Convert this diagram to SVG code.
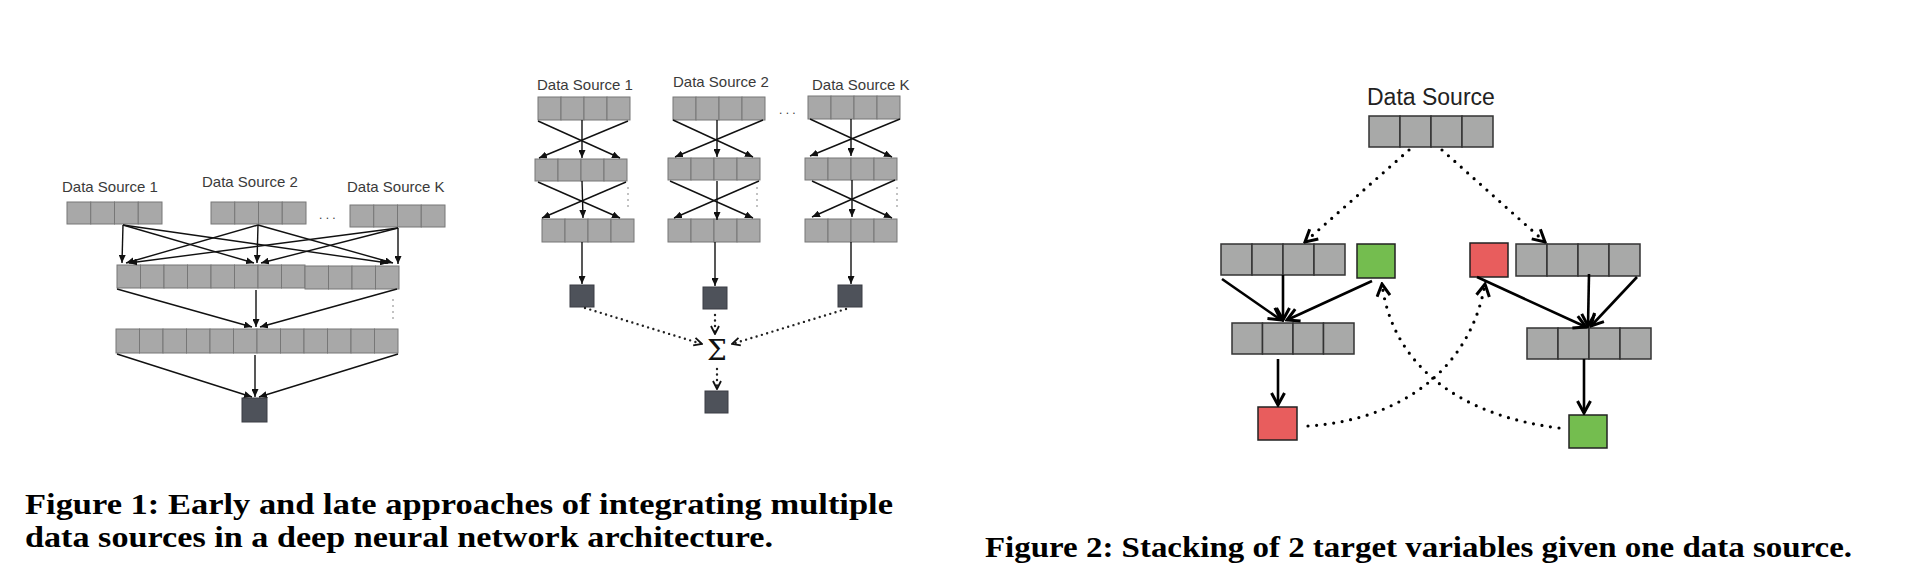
<svg xmlns="http://www.w3.org/2000/svg" width="1924" height="574" viewBox="0 0 1924 574">
<style>
.c1{fill:#a8a8a8;stroke:#777;stroke-width:1}
.c2{fill:#a8a9a8;stroke:#333;stroke-width:1.5}
.out{fill:#4e525a;stroke:#3a3d44;stroke-width:1}
.red{fill:#e85d5d;stroke:#222;stroke-width:1.5}
.grn{fill:#74bd4f;stroke:#222;stroke-width:1.5}
.lbl{font-family:"Liberation Sans",Arial,sans-serif;font-size:15px;fill:#3a3a3a}
.lbl2{font-family:"Liberation Sans",Arial,sans-serif;font-size:23px;fill:#222}
.cap{font-family:"Liberation Serif","Times New Roman",serif;font-weight:bold;font-size:30px;fill:#000}
.a1{stroke:#111;stroke-width:1.4;fill:none;marker-end:url(#tri)}
.d1{stroke:#222;stroke-width:2.4;fill:none;stroke-dasharray:0 5.5;stroke-linecap:round;marker-end:url(#chs)}
.dt{stroke:#666;stroke-width:1.5;fill:none;stroke-dasharray:0 6;stroke-linecap:round}
.a2{stroke:#000;stroke-width:2.6;fill:none;marker-end:url(#chl)}
.d2{stroke:#000;stroke-width:3.2;fill:none;stroke-dasharray:0 8.6;stroke-linecap:round;marker-end:url(#chl)}
</style>
<defs>
<marker id="tri" viewBox="0 0 8 7" refX="8" refY="3.5" markerWidth="8" markerHeight="7" markerUnits="userSpaceOnUse" orient="auto"><path d="M0,0 L8,3.5 L0,7 z" fill="#111"/></marker>
<marker id="chs" viewBox="0 0 10 10" refX="9" refY="5" markerWidth="10" markerHeight="10" markerUnits="userSpaceOnUse" orient="auto"><path d="M1,1 L9,5 L1,9" fill="none" stroke="#111" stroke-width="1.8"/></marker>
<marker id="chl" viewBox="0 0 16 16" refX="14" refY="8" markerWidth="16" markerHeight="16" markerUnits="userSpaceOnUse" orient="auto"><path d="M2,1.5 L14,8 L2,14.5" fill="none" stroke="#000" stroke-width="3"/></marker>
</defs>
<rect width="1924" height="574" fill="#fff"/>

<!-- Figure 1 early -->
<g id="e-src1">
<text class="lbl" x="62" y="192">Data Source 1</text>
<rect class="c1" x="67" y="202" width="23.75" height="22"/><rect class="c1" x="90.75" y="202" width="23.75" height="22"/><rect class="c1" x="114.5" y="202" width="23.75" height="22"/><rect class="c1" x="138.25" y="202" width="23.75" height="22"/>
</g>
<g id="e-src2">
<text class="lbl" x="202" y="187">Data Source 2</text>
<rect class="c1" x="211" y="202" width="23.75" height="22"/><rect class="c1" x="234.75" y="202" width="23.75" height="22"/><rect class="c1" x="258.5" y="202" width="23.75" height="22"/><rect class="c1" x="282.25" y="202" width="23.75" height="22"/>
</g>
<g id="e-dots1"><text class="lbl" x="319" y="219" style="font-size:12px">. . .</text></g>
<g id="e-srcK">
<text class="lbl" x="347" y="192">Data Source K</text>
<rect class="c1" x="350" y="205" width="23.75" height="22"/><rect class="c1" x="373.75" y="205" width="23.75" height="22"/><rect class="c1" x="397.5" y="205" width="23.75" height="22"/><rect class="c1" x="421.25" y="205" width="23.75" height="22"/>
</g>
<g id="e-row2">
<rect class="c1" x="117" y="265" width="23.5" height="23"/><rect class="c1" x="140.5" y="265" width="23.5" height="23"/><rect class="c1" x="164" y="265" width="23.5" height="23"/><rect class="c1" x="187.5" y="265" width="23.5" height="23"/><rect class="c1" x="211" y="265" width="23.5" height="23"/><rect class="c1" x="234.5" y="265" width="23.5" height="23"/><rect class="c1" x="258" y="265" width="23.5" height="23"/><rect class="c1" x="281.5" y="265" width="23.5" height="23"/><rect class="c1" x="305" y="266" width="23.5" height="23"/><rect class="c1" x="328.5" y="266" width="23.5" height="23"/><rect class="c1" x="352" y="266" width="23.5" height="23"/><rect class="c1" x="375.5" y="266" width="23.5" height="23"/>
</g>
<g id="e-row3">
<rect class="c1" x="116" y="329" width="23.5" height="24"/><rect class="c1" x="139.5" y="329" width="23.5" height="24"/><rect class="c1" x="163" y="329" width="23.5" height="24"/><rect class="c1" x="186.5" y="329" width="23.5" height="24"/><rect class="c1" x="210" y="329" width="23.5" height="24"/><rect class="c1" x="233.5" y="329" width="23.5" height="24"/><rect class="c1" x="257" y="329" width="23.5" height="24"/><rect class="c1" x="280.5" y="329" width="23.5" height="24"/><rect class="c1" x="304" y="329" width="23.5" height="24"/><rect class="c1" x="327.5" y="329" width="23.5" height="24"/><rect class="c1" x="351" y="329" width="23.5" height="24"/><rect class="c1" x="374.5" y="329" width="23.5" height="24"/>
</g>
<g id="e-out"><rect class="out" x="242" y="398" width="25" height="24"/></g>

<!-- Figure 1 late -->
<g id="l-src1">
<text class="lbl" x="537" y="90">Data Source 1</text>
<rect class="c1" x="538" y="97" width="23" height="23"/><rect class="c1" x="561" y="97" width="23" height="23"/><rect class="c1" x="584" y="97" width="23" height="23"/><rect class="c1" x="607" y="97" width="23" height="23"/>
</g>
<g id="l-c1r2"><rect class="c1" x="535" y="159" width="23" height="22"/><rect class="c1" x="558" y="159" width="23" height="22"/><rect class="c1" x="581" y="159" width="23" height="22"/><rect class="c1" x="604" y="159" width="23" height="22"/></g>
<g id="l-c1r3"><rect class="c1" x="542" y="219" width="23" height="23"/><rect class="c1" x="565" y="219" width="23" height="23"/><rect class="c1" x="588" y="219" width="23" height="23"/><rect class="c1" x="611" y="219" width="23" height="23"/></g>
<g id="l-c1out"><rect class="out" x="570" y="285" width="24" height="22"/></g>

<g id="l-src2">
<text class="lbl" x="673" y="87">Data Source 2</text>
<rect class="c1" x="673" y="97" width="23" height="23"/><rect class="c1" x="696" y="97" width="23" height="23"/><rect class="c1" x="719" y="97" width="23" height="23"/><rect class="c1" x="742" y="97" width="23" height="23"/>
</g>
<g id="l-c2r2"><rect class="c1" x="668" y="158" width="23" height="22"/><rect class="c1" x="691" y="158" width="23" height="22"/><rect class="c1" x="714" y="158" width="23" height="22"/><rect class="c1" x="737" y="158" width="23" height="22"/></g>
<g id="l-c2r3"><rect class="c1" x="668" y="219" width="23" height="23"/><rect class="c1" x="691" y="219" width="23" height="23"/><rect class="c1" x="714" y="219" width="23" height="23"/><rect class="c1" x="737" y="219" width="23" height="23"/></g>
<g id="l-c2out"><rect class="out" x="703" y="287" width="24" height="22"/></g>

<g id="l-dots"><text class="lbl" x="779" y="114" style="font-size:12px">. . .</text></g>

<g id="l-srcK">
<text class="lbl" x="812" y="90">Data Source K</text>
<rect class="c1" x="808" y="96" width="23" height="23"/><rect class="c1" x="831" y="96" width="23" height="23"/><rect class="c1" x="854" y="96" width="23" height="23"/><rect class="c1" x="877" y="96" width="23" height="23"/>
</g>
<g id="l-cKr2"><rect class="c1" x="805" y="158" width="23" height="22"/><rect class="c1" x="828" y="158" width="23" height="22"/><rect class="c1" x="851" y="158" width="23" height="22"/><rect class="c1" x="874" y="158" width="23" height="22"/></g>
<g id="l-cKr3"><rect class="c1" x="805" y="219" width="23" height="23"/><rect class="c1" x="828" y="219" width="23" height="23"/><rect class="c1" x="851" y="219" width="23" height="23"/><rect class="c1" x="874" y="219" width="23" height="23"/></g>
<g id="l-cKout"><rect class="out" x="838" y="285" width="24" height="22"/></g>

<g id="l-sum"><text x="717" y="360" text-anchor="middle" style="font-family:'DejaVu Serif','Liberation Serif',serif;font-size:28px;fill:#111">Σ</text></g>
<g id="l-final"><rect class="out" x="705" y="391" width="23" height="22"/></g>

<!-- Figure 2 -->
<g id="s-src">
<text class="lbl2" x="1367" y="105">Data Source</text>
<rect class="c2" x="1369" y="116" width="31" height="31"/><rect class="c2" x="1400" y="116" width="31" height="31"/><rect class="c2" x="1431" y="116" width="31" height="31"/><rect class="c2" x="1462" y="116" width="31" height="31"/>
</g>
<g id="s-lmid"><rect class="c2" x="1221" y="244" width="31" height="31"/><rect class="c2" x="1252" y="244" width="31" height="31"/><rect class="c2" x="1283" y="244" width="31" height="31"/><rect class="c2" x="1314" y="244" width="31" height="31"/></g>
<g id="s-lgreen"><rect class="grn" x="1357" y="244" width="38" height="34"/></g>
<g id="s-rred"><rect class="red" x="1470" y="243" width="38" height="34"/></g>
<g id="s-rmid"><rect class="c2" x="1516" y="244" width="31" height="32"/><rect class="c2" x="1547" y="244" width="31" height="32"/><rect class="c2" x="1578" y="244" width="31" height="32"/><rect class="c2" x="1609" y="244" width="31" height="32"/></g>
<g id="s-llow"><rect class="c2" x="1232" y="323" width="30.5" height="31"/><rect class="c2" x="1262.5" y="323" width="30.5" height="31"/><rect class="c2" x="1293" y="323" width="30.5" height="31"/><rect class="c2" x="1323.5" y="323" width="30.5" height="31"/></g>
<g id="s-rlow"><rect class="c2" x="1527" y="328" width="31" height="31"/><rect class="c2" x="1558" y="328" width="31" height="31"/><rect class="c2" x="1589" y="328" width="31" height="31"/><rect class="c2" x="1620" y="328" width="31" height="31"/></g>
<g id="s-lred"><rect class="red" x="1258" y="407" width="39" height="33"/></g>
<g id="s-rgreen"><rect class="grn" x="1569" y="415" width="38" height="33"/></g>

<!-- captions -->
<g id="captions">
<text class="cap" x="25" y="514" textLength="868" lengthAdjust="spacingAndGlyphs">Figure 1: Early and late approaches of integrating multiple</text>
<text class="cap" x="25" y="547" textLength="748" lengthAdjust="spacingAndGlyphs">data sources in a deep neural network architecture.</text>
<text class="cap" x="985" y="557" textLength="867" lengthAdjust="spacingAndGlyphs">Figure 2: Stacking of 2 target variables given one data source.</text>
</g>

<g id="connectors">
<!-- early -->
<line class="a1" x1="123" y1="225" x2="122" y2="263"/>
<line class="a1" x1="123" y1="225" x2="254" y2="263"/>
<line class="a1" x1="123" y1="225" x2="388" y2="263"/>
<line class="a1" x1="258" y1="225" x2="126" y2="263"/>
<line class="a1" x1="258" y1="225" x2="257" y2="263"/>
<line class="a1" x1="258" y1="225" x2="393" y2="263"/>
<line class="a1" x1="398" y1="228" x2="129" y2="263"/>
<line class="a1" x1="398" y1="228" x2="261" y2="263"/>
<line class="a1" x1="398" y1="228" x2="398" y2="264"/>
<line class="a1" x1="117" y1="289" x2="252" y2="327"/>
<line class="a1" x1="256" y1="290" x2="256" y2="327"/>
<line class="a1" x1="397" y1="289" x2="260" y2="327"/>
<line class="a1" x1="117" y1="354" x2="252" y2="397"/>
<line class="a1" x1="255" y1="355" x2="255" y2="397"/>
<line class="a1" x1="398" y1="354" x2="259" y2="397"/>
<line class="dt" x1="393" y1="300" x2="393" y2="324"/>
<!-- late col1 -->
<line class="a1" x1="538" y1="121" x2="620" y2="158"/>
<line class="a1" x1="628" y1="121" x2="539" y2="158"/>
<line class="a1" x1="582" y1="120" x2="582" y2="158"/>
<line class="a1" x1="538" y1="182" x2="620" y2="218"/>
<line class="a1" x1="626" y1="182" x2="542" y2="218"/>
<line class="a1" x1="582" y1="181" x2="583" y2="218"/>
<line class="dt" x1="628" y1="188" x2="628" y2="211"/>
<line class="a1" x1="582" y1="242" x2="582" y2="284"/>
<!-- late col2 -->
<line class="a1" x1="673" y1="120" x2="753" y2="157"/>
<line class="a1" x1="763" y1="120" x2="675" y2="157"/>
<line class="a1" x1="717" y1="120" x2="717" y2="157"/>
<line class="a1" x1="670" y1="181" x2="753" y2="218"/>
<line class="a1" x1="759" y1="181" x2="674" y2="218"/>
<line class="a1" x1="717" y1="181" x2="717" y2="220"/>
<line class="dt" x1="757" y1="188" x2="757" y2="211"/>
<line class="a1" x1="715" y1="242" x2="715" y2="286"/>
<!-- late colK -->
<line class="a1" x1="810" y1="119" x2="892" y2="157"/>
<line class="a1" x1="900" y1="119" x2="810" y2="156"/>
<line class="a1" x1="851" y1="119" x2="851" y2="156"/>
<line class="a1" x1="812" y1="181" x2="892" y2="218"/>
<line class="a1" x1="895" y1="180" x2="812" y2="217"/>
<line class="a1" x1="852" y1="180" x2="852" y2="217"/>
<line class="dt" x1="897" y1="188" x2="897" y2="211"/>
<line class="a1" x1="851" y1="242" x2="851" y2="284"/>
<!-- late sum -->
<line class="d1" x1="585" y1="308" x2="702" y2="344"/>
<line class="d1" x1="846" y1="309" x2="732" y2="344"/>
<line class="d1" x1="715" y1="315" x2="715" y2="334"/>
<line class="d1" x1="717" y1="369" x2="717" y2="389"/>
<!-- figure 2 -->
<line class="d2" x1="1409" y1="150" x2="1305" y2="242"/>
<line class="d2" x1="1442" y1="150" x2="1545" y2="242"/>
<line class="a2" x1="1222" y1="279" x2="1281" y2="320"/>
<line class="a2" x1="1283" y1="275" x2="1283" y2="320"/>
<line class="a2" x1="1372" y1="281" x2="1287" y2="320"/>
<line class="a2" x1="1278" y1="359" x2="1278" y2="405"/>
<line class="a2" x1="1477" y1="277" x2="1586" y2="327"/>
<line class="a2" x1="1589" y1="274" x2="1588" y2="326"/>
<line class="a2" x1="1637" y1="277" x2="1591" y2="326"/>
<line class="a2" x1="1584" y1="359" x2="1584" y2="413"/>
<path class="d2" d="M1308,426 C1400,420 1470,370 1485,284"/>
<path class="d2" d="M1559,428 C1455,415 1392,362 1382,284"/>
</g>
</svg>
